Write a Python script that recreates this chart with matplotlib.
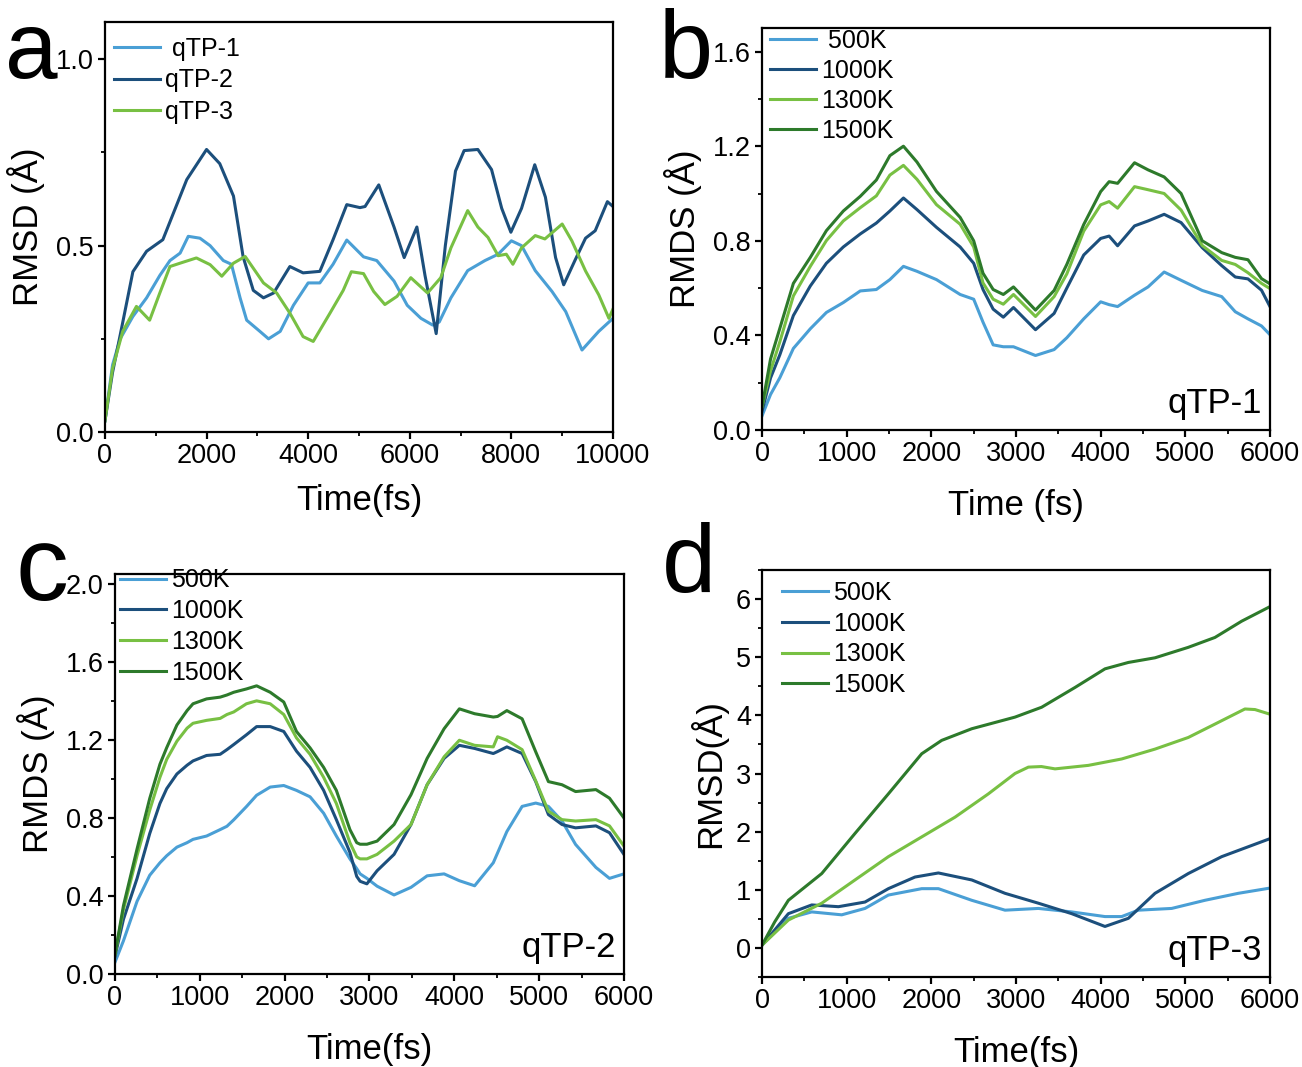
import numpy as np
import matplotlib
matplotlib.use("Agg")
import matplotlib.pyplot as plt
from matplotlib.ticker import MultipleLocator, FormatStrFormatter

plt.rcParams['font.family'] = ['Liberation Sans', 'DejaVu Sans']

## colours
c_lblue = '#4a9fd5'
c_dblue = '#1c4f7c'
c_lgreen = '#78c043'
c_dgreen = '#2d7a2b'

## panel a : qTP-1/2/3, 10 ps
a_t1 = [0, 150, 300, 550, 820, 1080, 1280, 1480, 1640, 1870, 2070, 2330, 2490, 2660, 2790, 3050, 3220, 3450,
        3710, 4000, 4230, 4490, 4760, 5090, 5350, 5690, 5950, 6220, 6450, 6580, 6810, 7140, 7480, 7740, 8000,
        8200, 8470, 8800, 9070, 9390, 9720, 10000]
a_v1 = [0.03, 0.18, 0.25, 0.31, 0.36, 0.42, 0.46, 0.48, 0.525, 0.52, 0.50, 0.46, 0.45, 0.36, 0.30, 0.27, 0.25, 0.27,
        0.34, 0.40, 0.40, 0.45, 0.515, 0.47, 0.46, 0.405, 0.34, 0.305, 0.287, 0.295, 0.36, 0.433, 0.46, 0.477, 0.513,
        0.50, 0.433, 0.377, 0.323, 0.22, 0.27, 0.305]
a_t2 = [0, 150, 300, 550, 820, 1140, 1610, 2000, 2260, 2530, 2720, 2920, 3120, 3320, 3640, 3900, 4230, 4490, 4760,
        5020, 5120, 5390, 5690, 5890, 6140, 6300, 6520, 6700, 6900, 7070, 7340, 7610, 7810, 7990, 8200, 8460, 8670,
        8870, 9030, 9250, 9460, 9650, 9890, 10000]
a_v2 = [0.03, 0.16, 0.26, 0.43, 0.485, 0.516, 0.677, 0.758, 0.72, 0.633, 0.47, 0.38, 0.36, 0.373, 0.444, 0.427,
        0.431, 0.516, 0.61, 0.602, 0.605, 0.663, 0.55, 0.468, 0.55, 0.42, 0.264, 0.50, 0.70, 0.755, 0.758, 0.704,
        0.60, 0.536, 0.60, 0.717, 0.63, 0.468, 0.395, 0.46, 0.52, 0.54, 0.618, 0.605]
a_t3 = [0, 150, 350, 620, 880, 1080, 1280, 1480, 1800, 2070, 2300, 2530, 2760, 3120, 3380, 3640, 3900, 4100, 4430,
        4690, 4850, 5090, 5290, 5510, 5750, 6020, 6350, 6610, 6810, 7140, 7340, 7540, 7740, 7900, 8030, 8200, 8470,
        8660, 9000, 9190, 9460, 9720, 9920, 10000]
a_v3 = [0.03, 0.17, 0.27, 0.337, 0.30, 0.373, 0.444, 0.453, 0.467, 0.449, 0.418, 0.453, 0.471, 0.40, 0.373, 0.319,
        0.256, 0.243, 0.319, 0.38, 0.43, 0.425, 0.377, 0.342, 0.364, 0.414, 0.373, 0.414, 0.494, 0.594, 0.55, 0.522,
        0.473, 0.477, 0.45, 0.494, 0.527, 0.518, 0.558, 0.513, 0.432, 0.368, 0.305, 0.33]
a_labels = [' qTP-1', 'qTP-2', 'qTP-3']

## panel b : qTP-1 at 4 temperatures
b_t = [0, 100, 210, 370, 570, 760, 960, 1160, 1350, 1510, 1670, 1830, 2060, 2340, 2500, 2610, 2730, 2850, 2970,
       3230, 3450, 3600, 3800, 4000, 4100, 4200, 4400, 4560, 4750, 4950, 5200, 5430, 5590, 5740, 5900, 6000]
b_500 = [0.06, 0.15, 0.221, 0.345, 0.428, 0.497, 0.539, 0.588, 0.594, 0.636, 0.692, 0.671, 0.636, 0.573, 0.553,
         0.456, 0.36, 0.352, 0.352, 0.315, 0.34, 0.39, 0.47, 0.542, 0.53, 0.522, 0.57, 0.605, 0.668, 0.633, 0.59,
         0.564, 0.50, 0.47, 0.44, 0.403]
b_1000 = [0.08, 0.22, 0.318, 0.484, 0.609, 0.705, 0.774, 0.829, 0.875, 0.926, 0.981, 0.932, 0.857, 0.774, 0.705,
          0.594, 0.511, 0.477, 0.518, 0.424, 0.493, 0.60, 0.74, 0.81, 0.82, 0.779, 0.863, 0.884, 0.912, 0.877, 0.771,
          0.695, 0.647, 0.639, 0.591, 0.522]
b_1300 = [0.10, 0.25, 0.373, 0.567, 0.692, 0.801, 0.884, 0.94, 0.99, 1.078, 1.119, 1.06, 0.953, 0.87, 0.774, 0.622,
          0.553, 0.532, 0.573, 0.48, 0.564, 0.66, 0.841, 0.952, 0.966, 0.938, 1.029, 1.016, 1.0, 0.93, 0.78, 0.717,
          0.70, 0.665, 0.62, 0.598]
b_1500 = [0.10, 0.30, 0.43, 0.62, 0.73, 0.843, 0.926, 0.988, 1.057, 1.16, 1.20, 1.133, 1.009, 0.899, 0.80, 0.663,
          0.594, 0.573, 0.605, 0.507, 0.59, 0.70, 0.869, 1.008, 1.05, 1.043, 1.13, 1.10, 1.07, 1.00, 0.80, 0.75, 0.73,
          0.72, 0.64, 0.618]

## panel c : qTP-2 at 4 temperatures
c_t = [0, 100, 260, 410, 530, 610, 730, 850, 920, 1080, 1240, 1320, 1400, 1550, 1670, 1830, 1990, 2140, 2300, 2460,
       2610, 2770, 2850, 2890, 2970, 3090, 3290, 3490, 3680, 3880, 4060, 4240, 4460, 4510, 4620, 4800, 4960, 5110,
       5270, 5430, 5670, 5830, 6000]
c_500 = [0.06, 0.17, 0.372, 0.506, 0.57, 0.606, 0.65, 0.673, 0.69, 0.707, 0.74, 0.757, 0.79, 0.858, 0.916, 0.958,
         0.966, 0.941, 0.908, 0.824, 0.707, 0.59, 0.54, 0.513, 0.49, 0.45, 0.405, 0.444, 0.503, 0.513, 0.478, 0.452,
         0.57, 0.62, 0.73, 0.859, 0.876, 0.859, 0.784, 0.664, 0.546, 0.49, 0.513]
c_1000 = [0.09, 0.28, 0.489, 0.72, 0.874, 0.95, 1.025, 1.07, 1.092, 1.12, 1.126, 1.15, 1.176, 1.226, 1.268, 1.268,
          1.243, 1.142, 1.059, 0.941, 0.791, 0.623, 0.50, 0.475, 0.462, 0.529, 0.613, 0.766, 0.97, 1.105, 1.172,
          1.156, 1.13, 1.14, 1.164, 1.13, 0.986, 0.817, 0.766, 0.749, 0.759, 0.724, 0.613]
c_1300 = [0.10, 0.33, 0.606, 0.84, 1.008, 1.10, 1.193, 1.26, 1.285, 1.30, 1.31, 1.33, 1.343, 1.385, 1.40, 1.385,
          1.33, 1.21, 1.126, 1.008, 0.874, 0.673, 0.60, 0.59, 0.59, 0.613, 0.681, 0.766, 0.97, 1.113, 1.198, 1.172,
          1.164, 1.216, 1.198, 1.15, 0.99, 0.834, 0.791, 0.784, 0.791, 0.759, 0.656]
c_1500 = [0.10, 0.35, 0.64, 0.90, 1.075, 1.16, 1.276, 1.35, 1.385, 1.41, 1.419, 1.43, 1.444, 1.461, 1.477, 1.444,
          1.394, 1.243, 1.159, 1.059, 0.941, 0.74, 0.673, 0.665, 0.665, 0.681, 0.766, 0.919, 1.105, 1.257, 1.359,
          1.334, 1.317, 1.32, 1.35, 1.308, 1.139, 0.986, 0.97, 0.935, 0.945, 0.901, 0.80]

## panel d : qTP-3 at 4 temperatures
d_t500 = [0, 311, 587, 941, 1216, 1492, 1886, 2083, 2477, 2870, 3264, 3658, 4051, 4248, 4445, 4839, 5232, 5626, 6000]
d_500 = [0.05, 0.51, 0.62, 0.57, 0.68, 0.91, 1.02, 1.02, 0.82, 0.65, 0.68, 0.62, 0.54, 0.54, 0.65, 0.68, 0.82, 0.94,
         1.03]
d_t1000 = [0, 311, 587, 902, 1216, 1492, 1807, 2083, 2477, 2870, 3264, 3658, 4051, 4327, 4642, 5035, 5429, 6000]
d_1000 = [0.05, 0.59, 0.74, 0.71, 0.79, 1.02, 1.22, 1.29, 1.17, 0.94, 0.77, 0.59, 0.37, 0.51, 0.94, 1.28, 1.57, 1.88]
d_t1300 = [0, 311, 705, 1098, 1492, 1886, 2280, 2673, 2988, 3146, 3300, 3461, 3854, 4248, 4642, 5035, 5350, 5704,
           5823, 6000]
d_1300 = [0.05, 0.48, 0.77, 1.17, 1.57, 1.91, 2.25, 2.65, 3.0, 3.11, 3.12, 3.08, 3.14, 3.25, 3.42, 3.62, 3.85, 4.11,
          4.10, 4.02]
d_t1500 = [0, 150, 311, 705, 1098, 1492, 1886, 2122, 2477, 2988, 3303, 3697, 4051, 4327, 4642, 5035, 5350, 5666, 6000]
d_1500 = [0.05, 0.45, 0.82, 1.28, 1.97, 2.65, 3.34, 3.57, 3.77, 3.97, 4.14, 4.48, 4.80, 4.91, 4.99, 5.17, 5.34, 5.62,
          5.87]

temps = ['500K', '1000K', '1300K', '1500K']
temp_colors = [c_lblue, c_dblue, c_lgreen, c_dgreen]

TICK_FS = 19.5
LAB_FS = 25
LEG_FS = 18


def style_axes(ax, xmaj, xmin, ymaj, ymin, yfmt):
    for sp in ax.spines.values():
        sp.set_linewidth(1.6)
    ax.xaxis.set_major_locator(MultipleLocator(xmaj))
    ax.xaxis.set_minor_locator(MultipleLocator(xmin))
    ax.yaxis.set_major_locator(MultipleLocator(ymaj))
    ax.yaxis.set_minor_locator(MultipleLocator(ymin))
    ax.yaxis.set_major_formatter(FormatStrFormatter(yfmt))
    ax.tick_params(which='major', direction='out', length=5, width=1.6, labelsize=TICK_FS, pad=3)
    ax.tick_params(which='minor', direction='out', length=3, width=1.3)


def add_legend(ax, anchor, spacing=0.3):
    ax.legend(loc='upper left', bbox_to_anchor=anchor, frameon=False, fontsize=LEG_FS, handlelength=1.85,
              handletextpad=0.2, labelspacing=spacing, borderaxespad=0.2)


fig = plt.figure(figsize=(13.02, 10.67), dpi=100)

## a
ax = fig.add_axes([0.0806, 0.5951, 0.3902, 0.3843])
ax.plot(a_t1, a_v1, color=c_lblue, lw=2.2, label=a_labels[0])
ax.plot(a_t2, a_v2, color=c_dblue, lw=2.2, label=a_labels[1])
ax.plot(a_t3, a_v3, color=c_lgreen, lw=2.2, label=a_labels[2])
ax.set_xlim(0, 10000)
ax.set_ylim(0, 1.1)
style_axes(ax, 2000, 1000, 0.5, 0.25, '%.1f')
ax.set_xlabel('Time(fs)', fontsize=LAB_FS, labelpad=11)
ax.set_ylabel('RMSD (Å)', fontsize=LAB_FS, labelpad=8)
add_legend(ax, (-0.012, 1.0))
fig.text(0.004, 0.927, 'a', fontsize=68, va='baseline')

## b
ax = fig.add_axes([0.5853, 0.597, 0.3901, 0.3768])
for vals, lab, col in zip([b_500, b_1000, b_1300, b_1500], temps, temp_colors):
    ax.plot(b_t, vals, color=col, lw=2.2, label=(' ' + lab if lab == '500K' else lab))
ax.set_xlim(0, 6000)
ax.set_ylim(0, 1.7)
style_axes(ax, 1000, 500, 0.4, 0.2, '%.1f')
ax.set_xlabel('Time (fs)', fontsize=LAB_FS, labelpad=16)
ax.set_ylabel('RMDS (Å)', fontsize=LAB_FS, labelpad=8)
add_legend(ax, (-0.014, 1.035), spacing=0.24)
ax.text(0.985, 0.025, 'qTP-1', transform=ax.transAxes, ha='right', va='bottom', fontsize=25)
fig.text(0.506, 0.927, 'b', fontsize=70, va='baseline')

## c
ax = fig.add_axes([0.0883, 0.0872, 0.3909, 0.3748])
for vals, lab, col in zip([c_500, c_1000, c_1300, c_1500], temps, temp_colors):
    ax.plot(c_t, vals, color=col, lw=2.2, label=lab)
ax.set_xlim(0, 6000)
ax.set_ylim(0, 2.05)
style_axes(ax, 1000, 500, 0.4, 0.2, '%.1f')
ax.set_xlabel('Time(fs)', fontsize=LAB_FS, labelpad=16)
ax.set_ylabel('RMDS (Å)', fontsize=LAB_FS, labelpad=8)
add_legend(ax, (-0.02, 1.052), spacing=0.27)
ax.text(0.985, 0.025, 'qTP-2', transform=ax.transAxes, ha='right', va='bottom', fontsize=25)
fig.text(0.012, 0.438, 'c', fontsize=76, va='baseline')

## d
ax = fig.add_axes([0.5853, 0.0843, 0.3901, 0.3815])
d_ts = [d_t500, d_t1000, d_t1300, d_t1500]
for tt, vals, lab, col in zip(d_ts, [d_500, d_1000, d_1300, d_1500], temps, temp_colors):
    ax.plot(tt, vals, color=col, lw=2.2, label=lab)
ax.set_xlim(0, 6000)
ax.set_ylim(-0.5, 6.5)
style_axes(ax, 1000, 500, 1, 0.5, '%d')
ax.set_xlabel('Time(fs)', fontsize=LAB_FS, labelpad=16)
ax.set_ylabel('RMSD(Å)', fontsize=LAB_FS, labelpad=6)
add_legend(ax, (0.01, 1.01), spacing=0.27)
ax.text(0.985, 0.025, 'qTP-3', transform=ax.transAxes, ha='right', va='bottom', fontsize=25)
fig.text(0.508, 0.445, 'd', fontsize=70, va='baseline')

fig.savefig('out.png', dpi=100)
